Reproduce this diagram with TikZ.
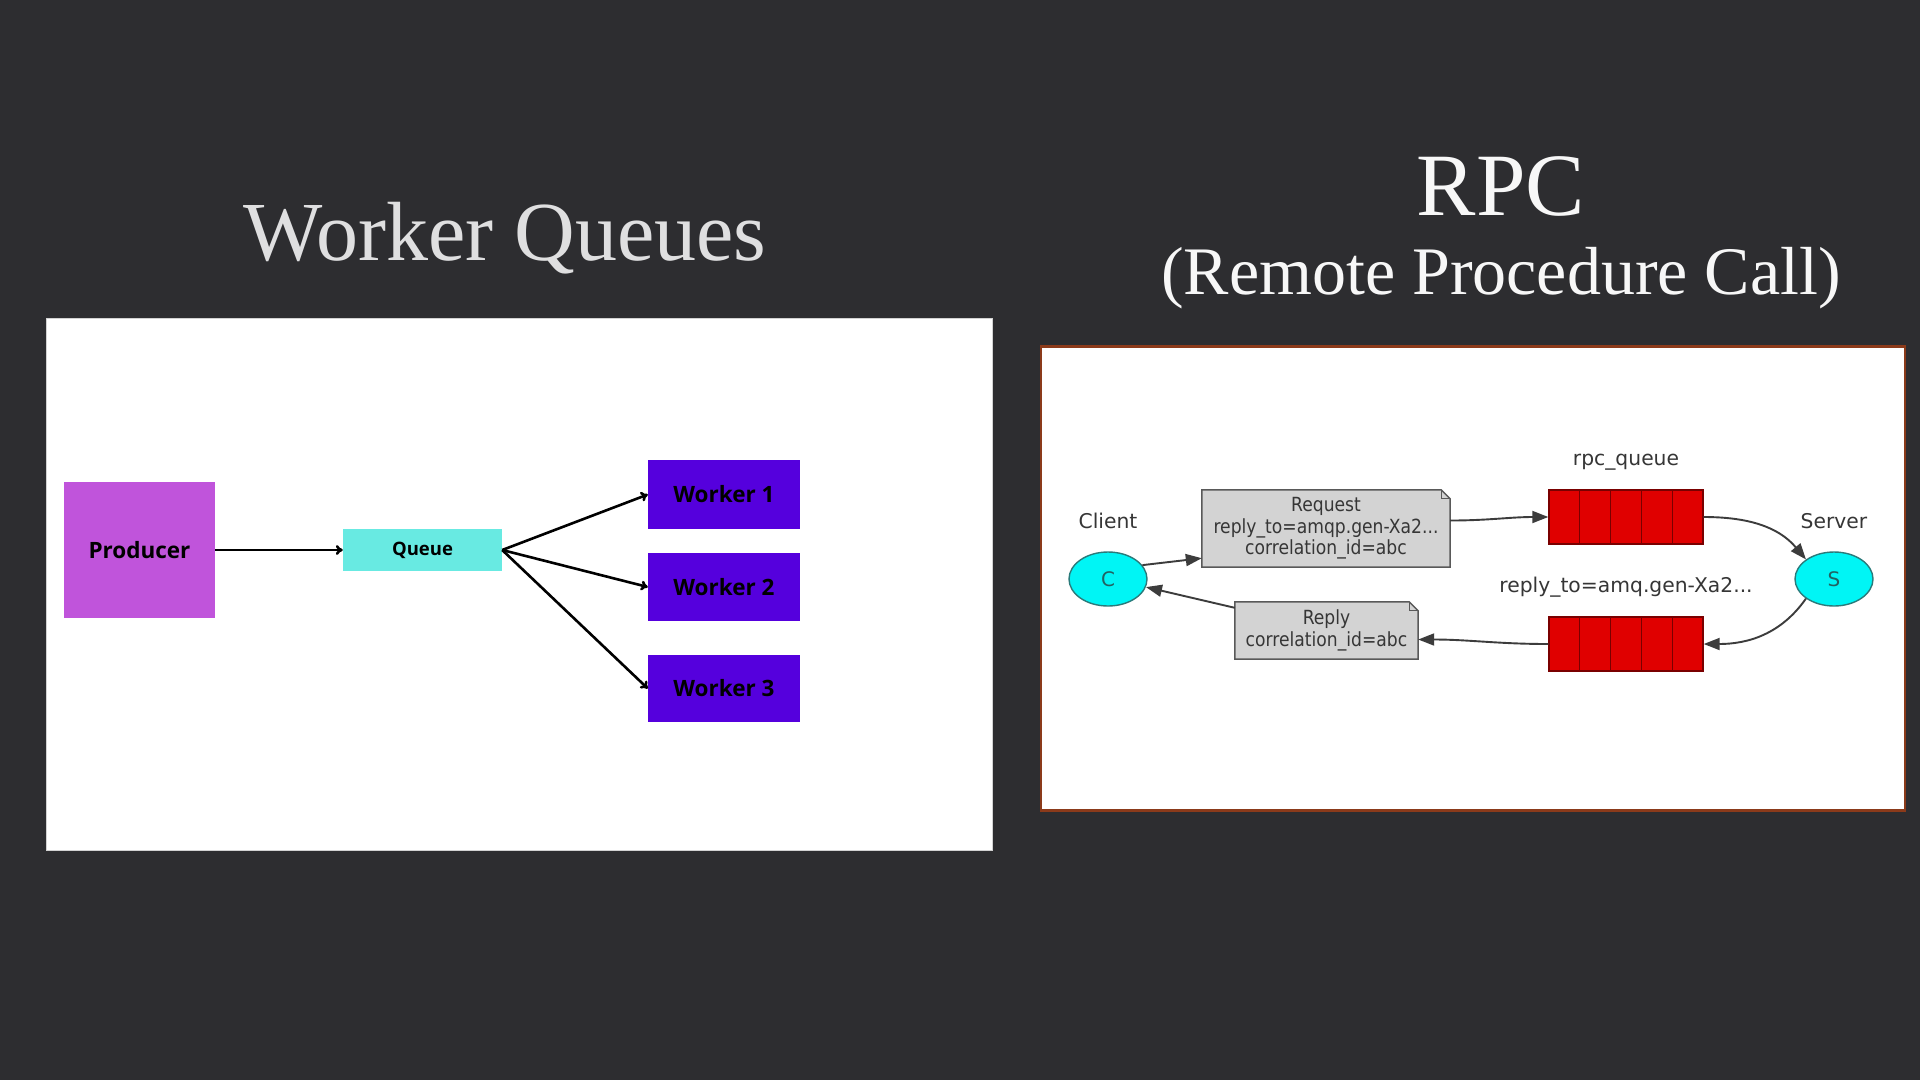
\documentclass[tikz,border=0pt]{standalone}
\usepackage{fontspec}
\setmainfont{Liberation Serif}
\newfontfamily\boxfont{Open Sans}
\newfontfamily\gvfont{DejaVu Sans}
\newfontfamily\gvcond{DejaVu Sans}[FakeStretch=0.88]
\usetikzlibrary{arrows.meta,calc,shapes.geometric}
\pgfdeclarelayer{back}
\pgfdeclarelayer{notes}
\pgfsetlayers{back,notes,main}

\definecolor{slate}{HTML}{2D2D30}
\definecolor{producer}{HTML}{C054DB}
\definecolor{queuecol}{HTML}{68EAE2}
\definecolor{workercol}{HTML}{5500DD}
\definecolor{gvcyan}{HTML}{00F5F5}
\definecolor{gvcyanline}{HTML}{2A7A7A}
\definecolor{gvred}{HTML}{E00000}
\definecolor{gvredline}{HTML}{7A0000}
\definecolor{notegray}{HTML}{D3D3D3}
\definecolor{edgegray}{HTML}{3C3C3C}
\definecolor{textgray}{HTML}{363636}
\definecolor{frameline}{HTML}{8B3A1A}

\newcommand\drawnote[1]{%
  \begin{pgfonlayer}{notes}
    \filldraw[fill=notegray, draw=edgegray!85, line width=1.5pt, line join=miter]
      (#1.south west) -- (#1.north west) -- ([xshift=-9pt]#1.north east)
      -- ([yshift=-9pt]#1.north east) -- (#1.south east) -- cycle;
    \draw[edgegray!85, line width=1pt]
      ([xshift=-9pt]#1.north east) -- ([xshift=-9pt,yshift=-9pt]#1.north east)
      -- ([yshift=-9pt]#1.north east);
  \end{pgfonlayer}}

\begin{document}
\begin{tikzpicture}[x=1pt,y=-1pt,
  title/.style={anchor=base, inner sep=0pt},
  wqbox/.style={rectangle, inner sep=0pt, text=black,
    font=\boxfont\bfseries\fontsize{22.5}{26}\selectfont},
  wqarrow/.style={-{To[length=7pt,width=10pt]}, line width=2.6pt, black},
  gvnode/.style={ellipse, fill=gvcyan, draw=gvcyanline, line width=1.4pt,
    minimum width=78pt, minimum height=54pt, inner sep=0pt,
    text=gvcyanline!80!black, font=\gvfont\fontsize{20}{22}\selectfont},
  gvlabel/.style={inner sep=0pt, text=textgray, font=\gvfont\fontsize{20.3}{23}\selectfont},
  gvnote/.style={rectangle, inner sep=0pt, align=center, text=textgray,
    font=\gvcond\fontsize{19.5}{21.5}\selectfont},
  gvqueue/.style={rectangle, fill=gvred, draw=gvredline, line width=1.4pt,
    minimum width=154pt, minimum height=54pt, inner sep=0pt},
  gvedge/.style={-{Triangle[length=16pt,width=12pt]}, line width=1.9pt, edgegray}
]
\begin{pgfonlayer}{back}
  \fill[slate] (0,0) rectangle (1920,1080);
  % left panel
  \filldraw[fill=white, draw=gray!35, line width=1pt] (46,318) rectangle (992,850);
  % right panel
  \filldraw[fill=white, draw=frameline, line width=2.5pt] (1041,346.5) rectangle (1905,810.5);
\end{pgfonlayer}
\useasboundingbox (0,0) rectangle (1920,1080);

% headings
\node[title, text=white!85!slate, font=\fontsize{84}{96}\selectfont] (wqtitle) at (505,260) {Worker Queues};
\node[title, text=white!96!slate, font=\fontsize{89}{96}\selectfont] (rpctitle) at (1501,215) {RPC};
\node[title, text=white!96!slate, font=\fontsize{68}{80}\selectfont] (rpcsub) at (1501,294) {(Remote Procedure Call)};

% worker queue diagram
\node[wqbox, fill=producer, minimum width=151pt, minimum height=136pt] (prod) at (139.5,550) {Producer};
\node[wqbox, fill=queuecol, minimum width=159pt, minimum height=42pt,
      font=\boxfont\bfseries\fontsize{18.5}{21}\selectfont] (queue) at (422.5,550) {Queue};
\node[wqbox, fill=workercol, minimum width=152pt, minimum height=69pt] (w1) at (724,494.5) {Worker 1};
\node[wqbox, fill=workercol, minimum width=152pt, minimum height=68pt] (w2) at (724,587) {Worker 2};
\node[wqbox, fill=workercol, minimum width=152pt, minimum height=67pt] (w3) at (724,688.5) {Worker 3};

\draw[wqarrow] (prod.east) -- (queue.west);
\draw[wqarrow] (queue.east) -- (w1.west);
\draw[wqarrow] (queue.east) -- (w2.west);
\draw[wqarrow] (queue.east) -- (w3.west);

% RPC diagram
\node[gvnode] (cl) at (1108,579) {C};
\node[gvnode] (sv) at (1834,579) {S};
\node[gvlabel] (cllabel) at (1108,521) {Client};
\node[gvlabel] (svlabel) at (1834,521) {Server};

\node[gvnote, minimum width=248pt, minimum height=77pt] (req) at (1326,528.5)
  {Request\\reply\_to=amqp.gen-Xa2...\\correlation\_id=abc};
\drawnote{req}
\node[gvnote, minimum width=183pt, minimum height=57pt] (rep) at (1326.5,630.5)
  {Reply\\correlation\_id=abc};
\drawnote{rep}

\node[gvqueue] (rq) at (1626,517) {};
\node[gvqueue] (bq) at (1626,644) {};
\foreach \q in {rq,bq}
  \foreach \i in {1,...,4}
    \draw[gvredline, line width=1.4pt]
      ($(\q.north west)!\i/5!(\q.north east)$) -- ($(\q.south west)!\i/5!(\q.south east)$);

\node[gvlabel] (rqlabel) at (1626,462) {rpc\_queue};
\node[gvlabel] (bqlabel) at (1626,587) {reply\_to=amq.gen-Xa2...};

\draw[gvedge] (cl.22) -- ([yshift=9pt]req.south west);
\draw[gvedge] ([yshift=8pt]req.east) to[out=0,in=180] (rq.west);
\draw[gvedge] (rq.east) to[out=0,in=130] (sv.north west);
\draw[gvedge] (sv.south west) to[out=-125,in=0] (bq.east);
\draw[gvedge] (bq.west) to[out=180,in=0] ([yshift=-9pt]rep.east);
\draw[gvedge] ([yshift=-6pt]rep.north west) -- (cl.-12);
\end{tikzpicture}
\end{document}
